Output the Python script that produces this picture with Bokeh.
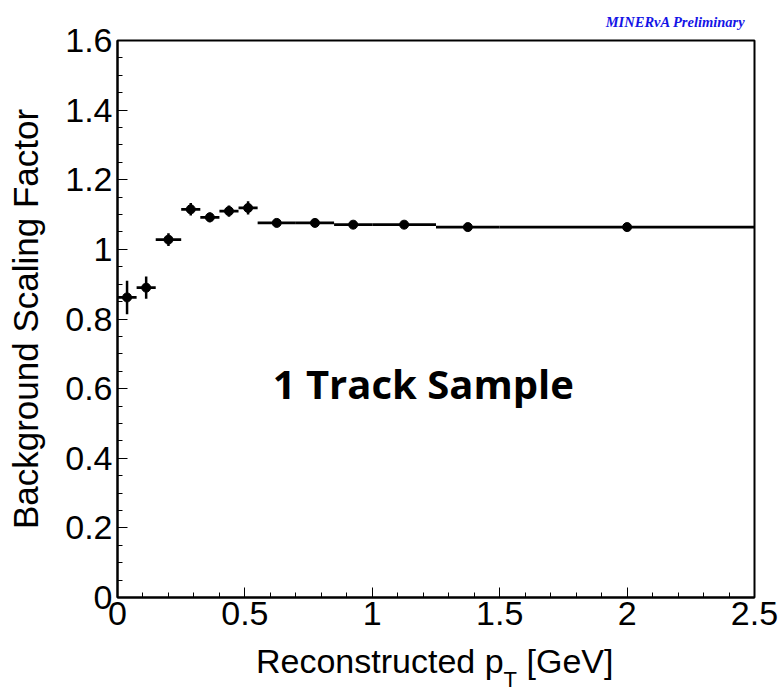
from bokeh.plotting import figure
from bokeh.models import FixedTicker, Label, ColumnDataSource, Div
from bokeh.layouts import column
from bokeh.embed import file_html
from bokeh.resources import INLINE

# ---- data ----
bin_lo = [0.0, 0.075, 0.15, 0.25, 0.325, 0.4, 0.475, 0.55, 0.7, 0.85, 1.0, 1.25, 1.5]
bin_hi = [0.075, 0.15, 0.25, 0.325, 0.4, 0.475, 0.55, 0.7, 0.85, 1.0, 1.25, 1.5, 2.5]
scale_factor = [0.862, 0.890, 1.028, 1.115, 1.092, 1.110, 1.119, 1.076, 1.076, 1.071, 1.071, 1.064, 1.064]
scale_error = [0.048, 0.032, 0.018, 0.018, 0.014, 0.016, 0.019, 0.005, 0.005, 0.004, 0.004, 0.003, 0.003]

x_ticks = [0, 0.5, 1, 1.5, 2, 2.5]
x_tick_labels = ["0", "0.5", "1", "1.5", "2", "2.5"]
y_ticks = [0, 0.2, 0.4, 0.6, 0.8, 1, 1.2, 1.4, 1.6]
y_tick_labels = ["0", "0.2", "0.4", "0.6", "0.8", "1", "1.2", "1.4", "1.6"]
x_minor = [round(i * 0.1, 2) for i in range(26)]
y_minor = [round(i * 0.05, 2) for i in range(33)]

y_title = "Background Scaling Factor"
x_title_main = "Reconstructed p"
x_title_sub = "T"
x_title_unit = "[GeV]"
sample_text = "1 Track Sample"
prelim_text = "MINER\u03bdA Preliminary"

centers = [(a + b) / 2 for a, b in zip(bin_lo, bin_hi)]
src = ColumnDataSource(dict(
    lo=bin_lo, hi=bin_hi, x=centers, y=scale_factor,
    ylo=[v - e for v, e in zip(scale_factor, scale_error)],
    yhi=[v + e for v, e in zip(scale_factor, scale_error)],
))

p = figure(width=781, height=640, x_range=(0, 2.5), y_range=(0, 1.6),
           output_backend="svg", toolbar_location=None,
           min_border_left=117, min_border_right=27, min_border_top=40, min_border_bottom=43)
p.background_fill_color = "white"
p.border_fill_color = "white"
p.xgrid.visible = False
p.ygrid.visible = False
p.outline_line_color = "black"
p.outline_line_width = 2

# preliminary tag as the title
p.title.text = prelim_text
p.title.align = "right"
p.title.offset = 9
p.title.standoff = 21
p.title.text_font = "Liberation Serif"
p.title.text_font_style = "bold italic"
p.title.text_font_size = "14.5px"
p.title.text_color = "#1414e6"

p.xaxis.ticker = FixedTicker(ticks=x_ticks, minor_ticks=x_minor)
p.yaxis.ticker = FixedTicker(ticks=y_ticks, minor_ticks=y_minor)
p.xaxis.major_label_overrides = {t: l for t, l in zip(x_ticks, x_tick_labels)}
p.yaxis.major_label_overrides = {t: l for t, l in zip(y_ticks, y_tick_labels)}

for ax in (p.xaxis, p.yaxis):
    ax.axis_line_width = 2
    ax.axis_line_color = "black"
    ax.major_tick_in = 10
    ax.major_tick_out = 0
    ax.minor_tick_in = 5
    ax.minor_tick_out = 0
    ax.major_tick_line_color = "black"
    ax.minor_tick_line_color = "black"
    ax.major_tick_line_width = 1
    ax.minor_tick_line_width = 1
    ax.major_label_text_font = "Liberation Sans"
    ax.major_label_text_color = "black"
    ax.major_label_text_font_size = "34px"

p.xaxis.major_label_standoff = 4
p.yaxis.major_label_standoff = 5

p.yaxis.axis_label = y_title
p.yaxis.axis_label_text_font = "Liberation Sans"
p.yaxis.axis_label_text_font_size = "35px"
p.yaxis.axis_label_text_font_style = "normal"
p.yaxis.axis_label_text_color = "black"
p.yaxis.axis_label_standoff = 17

# error bars and markers
p.segment(x0="lo", x1="hi", y0="y", y1="y", source=src, line_color="black", line_width=2.7)
p.segment(x0="x", x1="x", y0="ylo", y1="yhi", source=src, line_color="black", line_width=2.5)
p.scatter(x="x", y="y", source=src, size=9, marker="circle", fill_color="black", line_color="black")

# in-plot annotation
p.add_layout(Label(x=1.20, y=0.615, text=sample_text, text_font="Open Sans",
                   text_font_style="bold", text_font_size="40px", text_color="black",
                   text_align="center", text_baseline="alphabetic"))

# x axis title with a subscript, below the plot
title_html = (
    "<div style=\"font-family:'Liberation Sans'; font-size:34px; color:black; "
    "white-space:nowrap; line-height:34px; margin:0; padding:0;\">"
    + x_title_main
    + "<span style=\"font-size:22px; position:relative; top:14px;\">" + x_title_sub + "</span>"
    + " " + x_title_unit + "</div>"
)
xdiv = Div(text=title_html, width=781 - 256, height=51, margin=(4, 0, 0, 256))

layout = column(p, xdiv, spacing=0)
open("out.html", "w").write(file_html(layout, INLINE))
